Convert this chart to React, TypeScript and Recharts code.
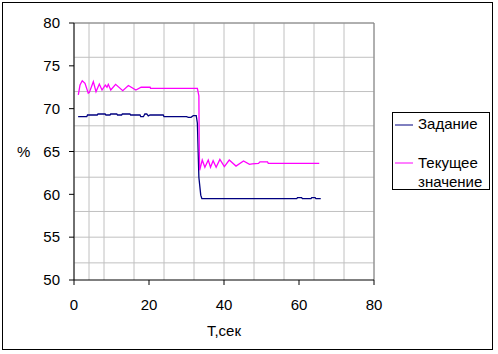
import React from 'react';
import { LineChart, Line, XAxis, YAxis, CartesianGrid, ReferenceLine, Legend } from 'recharts';

const setpointT = [1.1, 3.4, 3.6, 6.2, 6.4, 8.3, 8.5, 9.6, 9.8, 11.4, 11.6, 12.7, 12.9, 14.9, 15.1, 17.6, 17.8, 18.5, 18.9, 19.4, 19.8, 20.3, 23.8, 24.0, 30.0, 30.5, 31.2, 31.8, 32.6, 32.9, 33.3, 33.8, 34.1, 59.4, 59.6, 60.7, 60.9, 63.2, 63.4, 64.3, 64.5, 65.8];
const setpointV = [69.06, 69.06, 69.26, 69.26, 69.38, 69.38, 69.26, 69.26, 69.38, 69.38, 69.26, 69.26, 69.38, 69.38, 69.26, 69.26, 69.06, 69.06, 69.38, 69.38, 69.15, 69.26, 69.26, 69.06, 69.06, 68.99, 68.99, 69.18, 69.18, 68.3, 62.0, 59.9, 59.5, 59.5, 59.62, 59.62, 59.5, 59.5, 59.62, 59.62, 59.5, 59.5];

const currentT = [1.15, 1.6, 2.2, 2.93, 3.8, 4.1, 5.15, 5.87, 6.75, 7.47, 8.35, 8.8, 9.15, 9.8, 11.1, 13.0, 14.5, 16.5, 17.9, 20.3, 20.4, 32.9, 33.3, 33.4, 33.5, 34.2, 34.9, 35.8, 36.4, 37.1, 37.9, 38.9, 40.1, 41.4, 43.2, 45.2, 46.8, 47.5, 49.2, 49.6, 51.6, 51.8, 65.4];
const currentV = [71.6, 72.76, 73.26, 72.96, 71.8, 71.9, 73.15, 71.98, 72.88, 72.18, 72.76, 72.5, 72.84, 72.18, 72.84, 72.1, 72.7, 72.18, 72.5, 72.5, 72.38, 72.38, 71.5, 65.4, 62.8, 64.0, 63.16, 64.0, 63.16, 63.93, 63.16, 64.08, 63.23, 64.0, 63.3, 63.9, 63.5, 63.55, 63.6, 63.8, 63.8, 63.62, 63.62];

const xTicks = [0, 20, 40, 60, 80];
const yTicks = [50, 55, 60, 65, 70, 75, 80];
const xGrid = [0, 4, 8, 12, 16, 20, 24, 28, 32, 36, 40, 44, 48, 52, 56, 60, 64, 68, 72, 76, 80];
const yGrid = [50, 52, 54, 55, 56, 58, 60, 62, 64, 65, 66, 68, 70, 72, 74, 75, 76, 78, 80];

const seriesNames = ['Задание', 'Текущее значение'];
const xLabel = 'Т,сек';
const yLabel = '%';

const setpointData = setpointT.map((t, i) => ({ t, v: setpointV[i] }));
const currentData = currentT.map((t, i) => ({ t, v: currentV[i] }));

const FONT = '"Liberation Sans", Arial, sans-serif';

const LegendBox = () => (
  <div
    style={{
      width: 98,
      height: 78,
      boxSizing: 'border-box',
      border: '1px solid #000',
      background: '#fff',
      fontFamily: FONT,
      fontSize: 15,
      color: '#000',
      position: 'relative',
    }}
  >
    <svg width={20} height={4} style={{ position: 'absolute', left: 2, top: 10 }}>
      <line x1={0} y1={2} x2={18} y2={2} stroke="#000080" strokeWidth={1} />
    </svg>
    <div style={{ position: 'absolute', left: 25, top: 2, lineHeight: '18px' }}>{seriesNames[0]}</div>
    <svg width={20} height={4} style={{ position: 'absolute', left: 2, top: 48 }}>
      <line x1={0} y1={2} x2={18} y2={2} stroke="#FF00FF" strokeWidth={1} />
    </svg>
    <div style={{ position: 'absolute', left: 25, top: 40, lineHeight: '19px' }}>
      Текущее
      <br />
      значение
    </div>
  </div>
);

export default function App() {
  return (
    <div style={{ position: 'absolute', left: 0, top: 0, width: 498, height: 354, background: '#fff' }}>
      <LineChart
        width={498}
        height={354}
        margin={{ top: 23, right: 124, bottom: 44, left: 14 }}
        style={{ fontFamily: FONT }}
      >
        <CartesianGrid
          stroke="#c0c0c0"
          strokeWidth={1}
          horizontalValues={yGrid}
          verticalValues={xGrid}
        />
        <XAxis
          type="number"
          dataKey="t"
          domain={[0, 80]}
          ticks={xTicks}
          allowDataOverflow
          height={30}
          tickSize={5}
          tickMargin={14}
          stroke="#000"
          tick={{ fill: '#000', fontSize: 15, fontFamily: FONT }}
          label={{ value: xLabel, position: 'bottom', offset: 15, fill: '#000', fontSize: 15, fontFamily: FONT }}
        />
        <YAxis
          type="number"
          domain={[50, 80]}
          ticks={yTicks}
          allowDataOverflow
          width={60}
          tickSize={5}
          tickMargin={9}
          stroke="#000"
          tick={{ fill: '#000', fontSize: 15, fontFamily: FONT }}
          label={{ value: yLabel, position: 'insideLeft', offset: 3, fill: '#000', fontSize: 15, fontFamily: FONT }}
        />
        <ReferenceLine y={80} stroke="#808080" strokeWidth={1} ifOverflow="visible" />
        <ReferenceLine x={80} stroke="#808080" strokeWidth={1} ifOverflow="visible" />
        <Line
          data={setpointData}
          dataKey="v"
          name={seriesNames[0]}
          type="linear"
          stroke="#000080"
          strokeWidth={1.3}
          dot={false}
          activeDot={false}
          isAnimationActive={false}
        />
        <Line
          data={currentData}
          dataKey="v"
          name={seriesNames[1]}
          type="linear"
          stroke="#FF00FF"
          strokeWidth={1.3}
          dot={false}
          activeDot={false}
          isAnimationActive={false}
        />
        <Legend
          layout="vertical"
          align="center"
          verticalAlign="middle"
          content={() => <LegendBox />}
          wrapperStyle={{ left: 392, top: 112, width: 98, height: 78 }}
        />
      </LineChart>
      <div
        style={{
          position: 'absolute',
          left: 2,
          top: 2,
          width: 491,
          height: 348,
          boxSizing: 'border-box',
          border: '1px solid #000',
          pointerEvents: 'none',
        }}
      />
    </div>
  );
}
